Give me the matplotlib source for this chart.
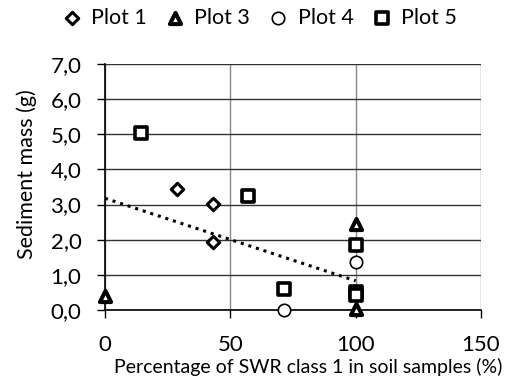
import numpy as np
import matplotlib.pyplot as plt

plt.rcParams['font.family'] = ['Lato', 'DejaVu Sans']

# sediment mass (g) vs share of SWR class 1 (%) per plot
p1_x = [28.6, 42.9, 42.9]
p1_y = [3.45, 3.02, 1.93]
p3_x = [0, 100, 100]
p3_y = [0.40, 2.45, 0.03]
p4_x = [71.4, 100]
p4_y = [0.0, 1.38]
p5_x = [14.3, 57.1, 71.4, 100, 100, 100]
p5_y = [5.05, 3.25, 0.60, 1.85, 0.50, 0.42]

# linear trend over all samples
trend_a, trend_b = -0.0235, 3.18

fig = plt.figure(figsize=(5.1, 3.92), dpi=100)
ax = fig.add_axes([105/510, 1 - 310/392, 376/510, 246/392])

kw = dict(facecolor='white', edgecolor='black', zorder=3, clip_on=False)
ax.scatter(p1_x, p1_y, marker='D', s=40, linewidth=2.2, label='Plot 1', **kw)
ax.scatter(p3_x, p3_y, marker='^', s=65, linewidth=2.9, label='Plot 3', **kw)
ax.scatter(p4_x, p4_y, marker='o', s=80, linewidth=1.2, label='Plot 4', **kw)
ax.scatter(p5_x, p5_y, marker='s', s=80, linewidth=2.6, label='Plot 5', **kw)

tx = np.array([0, 100])
ax.plot(tx, trend_a * tx + trend_b, color='black', linestyle=(0, (1, 1.6)), linewidth=2.2, zorder=2)

ax.set_xlim(0, 150)
ax.set_ylim(0, 7)
ax.set_xticks([0, 50, 100, 150])
ax.set_yticks(np.arange(0, 7.1, 1))
ax.set_yticklabels([f'{v:.1f}'.replace('.', ',') for v in np.arange(0, 7.1, 1)])
ax.tick_params(labelsize=16, length=6, width=1, direction='out')
ax.yaxis.set_tick_params(pad=11)
ax.xaxis.set_tick_params(pad=12)

ax.grid(axis='y', color='#333333', linewidth=1)
ax.grid(axis='x', color='#888888', linewidth=1)
ax.set_axisbelow(True)
for side in ['top', 'right']:
    ax.spines[side].set_visible(False)
ax.spines['left'].set_linewidth(1.2)
ax.spines['bottom'].set_linewidth(1.2)

ax.set_ylabel('Sediment mass (g)', fontsize=15.5)
ax.yaxis.set_label_coords(-0.181, 0.551)
ax.set_xlabel('Percentage of SWR class 1 in soil samples (%)', fontsize=14)
ax.xaxis.set_label_coords(0.54, -0.195)

fig.legend(loc='center', bbox_to_anchor=(0.512, 1 - 18/392), ncol=4, frameon=False,
           fontsize=15.5, handlelength=0.6, handletextpad=0.6, columnspacing=1.0,
           borderaxespad=0, borderpad=0)

fig.savefig('out.png', dpi=100)
